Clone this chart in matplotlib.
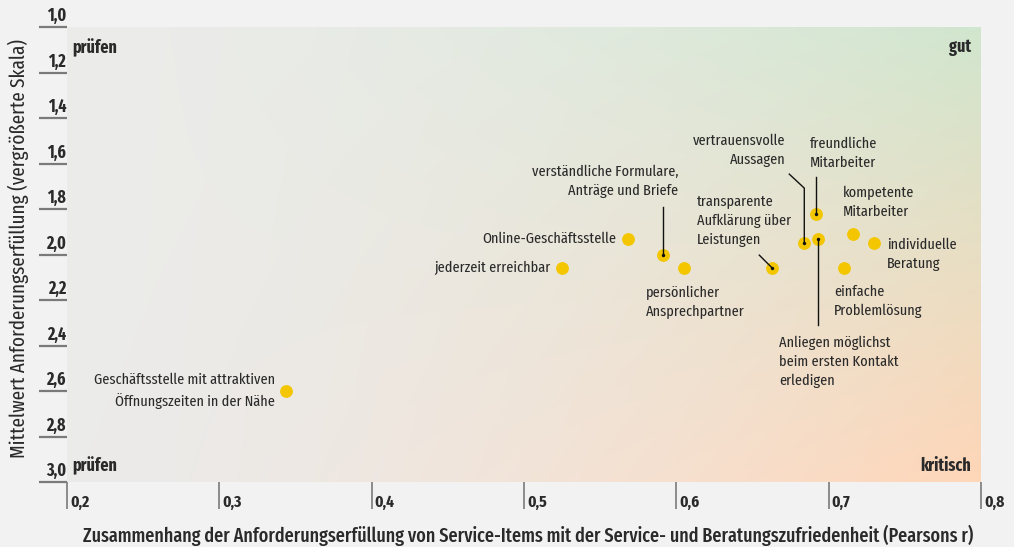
import matplotlib
matplotlib.use('Agg')
import matplotlib.pyplot as plt
import matplotlib.transforms as mtransforms
import numpy as np

plt.rcParams['font.family'] = ['Fira Sans Extra Condensed', 'Fira Sans Condensed', 'DejaVu Sans']

# data
items = [
    'Geschäftsstelle mit attraktiven\nÖffnungszeiten in der Nähe',
    'jederzeit erreichbar',
    'Online-Geschäftsstelle',
    'verständliche Formulare,\nAnträge und Briefe',
    'persönlicher\nAnsprechpartner',
    'transparente\nAufklärung über\nLeistungen',
    'vertrauensvolle\nAussagen',
    'freundliche\nMitarbeiter',
    'Anliegen möglichst\nbeim ersten Kontakt\nerledigen',
    'kompetente\nMitarbeiter',
    'individuelle\nBeratung',
    'einfache\nProblemlösung',
]
pearson_r = [0.344, 0.525, 0.568, 0.591, 0.605, 0.663, 0.684, 0.692, 0.693, 0.716, 0.730, 0.710]
mean_score = [2.60, 2.06, 1.93, 2.00, 2.06, 2.06, 1.95, 1.82, 1.93, 1.91, 1.95, 2.06]

x_ticks = [0.2, 0.3, 0.4, 0.5, 0.6, 0.7, 0.8]
y_ticks = [1.0, 1.2, 1.4, 1.6, 1.8, 2.0, 2.2, 2.4, 2.6, 2.8, 3.0]

# label layout: (dx, dy) in pixels (image coords, y down), ha
label_pos = [
    (-11, 0, 'right'),
    (-12, 0, 'right'),
    (-11, 0, 'right'),
    (16, -73, 'right'),
    (-38, 34, 'left'),
    (-75, -47, 'left'),
    (-19, -93, 'right'),
    (-7, -60, 'left'),
    (-39, 123, 'left'),
    (-10, -32, 'left'),
    (13, 11, 'left'),
    (-10, 33, 'left'),
]
# leader lines in pixel offsets from the point
leaders = {
    3: [(0, -48), (0, 0)],
    5: [(-13, -13), (0, 0)],
    6: [(-15, -69), (0, -55), (0, 0)],
    7: [(0, -37), (0, 0)],
    8: [(0, 86), (0, 0)],
}

BG = '#f2f2f2'
TXT = '#2a2a2a'
GRAY = '#7a7a7a'

fig = plt.figure(figsize=(10.14, 5.47), dpi=100, facecolor=BG)
ax = fig.add_axes([67 / 1014, 1 - 482 / 547, 914 / 1014, 455 / 547])
ax.set_facecolor(BG)
ax.set_xlim(0.2, 0.8)
ax.set_ylim(3.0, 1.0)

# background gradient
tl = np.array([236, 236, 234]) / 255
bl = np.array([235, 235, 234]) / 255
tr = np.array([209, 230, 206]) / 255
br = np.array([255, 214, 184]) / 255
xs = np.linspace(0, 1, 300) ** 1.5
ys = np.linspace(0, 1, 200)
X, Y = np.meshgrid(xs, ys)
left = tl * (1 - Y[..., None]) + bl * Y[..., None]
right = tr * (1 - Y[..., None]) + br * Y[..., None]
img = left * (1 - X[..., None]) + right * X[..., None]
ax.imshow(img, extent=(0.2, 0.8, 3.0, 1.0), aspect='auto', zorder=0, interpolation='bilinear')

for s in ax.spines.values():
    s.set_visible(False)

ax.set_xticks(x_ticks)
ax.set_yticks(y_ticks)
ax.set_xticklabels([])
ax.set_yticklabels([])
ax.tick_params(axis='y', length=20, width=1.6, color=GRAY, direction='out')
ax.tick_params(axis='x', length=19.5, width=1.2, color=GRAY, direction='out')

ytrans = mtransforms.blended_transform_factory(ax.transAxes, ax.transData)
for v in y_ticks:
    ax.text(-0.001, v, f'{v:.1f}'.replace('.', ','), ha='right', va='bottom',
            fontsize=12.5, fontweight='bold', color=TXT, clip_on=False,
            transform=ytrans + mtransforms.ScaledTranslation(0, 2 / 100, fig.dpi_scale_trans))
xtrans = mtransforms.blended_transform_factory(ax.transData, ax.transAxes)
for v in x_ticks:
    ax.text(v, 0, f'{v:.1f}'.replace('.', ','), ha='left', va='bottom',
            fontsize=12, fontweight='bold', color=TXT, clip_on=False,
            transform=xtrans + mtransforms.ScaledTranslation(3 / 100, -28 / 100, fig.dpi_scale_trans))

# corner labels
corner_kw = dict(transform=ax.transAxes, va='center', fontsize=12.5, fontweight='bold', color=TXT)
ax.text(0.006, 0.955, 'prüfen', ha='left', **corner_kw)
ax.text(0.006, 0.035, 'prüfen', ha='left', **corner_kw)
ax.text(0.989, 0.955, 'gut', ha='right', **corner_kw)
ax.text(0.989, 0.035, 'kritisch', ha='right', **corner_kw)

ax.scatter(pearson_r, mean_score, s=85, color='#f3c600', zorder=3, linewidths=0)

for i, (name, x, y) in enumerate(zip(items, pearson_r, mean_score)):
    dx, dy, ha = label_pos[i]
    ax.annotate(name, (x, y), xytext=(dx, -dy), textcoords='offset pixels', ha=ha, va='center',
                fontsize=11.2, color=TXT, linespacing=1.42, zorder=4)
    if i in leaders:
        base = mtransforms.ScaledTranslation(x, y, ax.transData)
        tr_px = mtransforms.Affine2D().scale(1, -1) + base
        pts = np.array(leaders[i])
        ax.plot(pts[:, 0], pts[:, 1], color='#111111', lw=1.0, transform=tr_px, zorder=4, clip_on=False)
        ax.scatter([x], [y], s=6, color='#111111', zorder=5, linewidths=0)

fig.text(18 / 1014, 1 - 249 / 547, 'Mittelwert Anforderungserfüllung (vergrößerte Skala)', rotation=90,
         ha='center', va='center', fontsize=15, color=TXT)
fig.text(528 / 1014, 1 - 535 / 547,
         'Zusammenhang der Anforderungserfüllung von Service-Items mit der Service- und Beratungszufriedenheit (Pearsons r)',
         ha='center', va='center', fontsize=14.2, fontweight='medium', color=TXT)

fig.savefig('out.png', dpi=100, facecolor=BG)
